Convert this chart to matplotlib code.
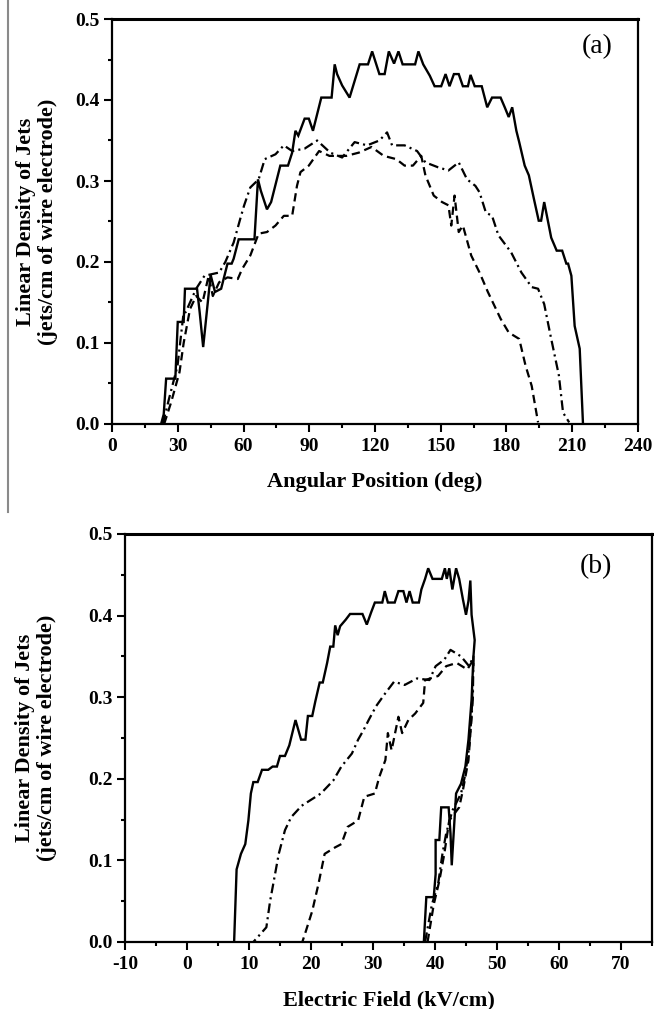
import matplotlib
matplotlib.use("Agg")
import matplotlib.pyplot as plt
from matplotlib.lines import Line2D
from matplotlib.ticker import MultipleLocator, FormatStrFormatter
from matplotlib.font_manager import FontProperties

plt.rcParams['font.family'] = ['Liberation Serif', 'DejaVu Serif']
plt.rcParams['lines.scale_dashes'] = False
plt.rcParams['axes.unicode_minus'] = False

# ---------------- Panel (a): density vs angular position ----------------
a_solid_x = [22.4, 23.6, 24.7, 28.9, 30.0, 32.7, 33.3, 38.8, 40.0, 41.6, 45.0, 47.0, 49.8, 51.3,
             52.7, 54.6, 55.5, 57.8, 65.0, 66.6, 67.9, 70.7, 72.6, 76.8, 80.3, 82.2, 83.7, 85.0,
             87.9, 89.8, 91.7, 95.5, 100.2, 101.6, 102.7, 105.0, 108.4, 113.0, 116.8, 118.7,
             122.0, 124.4, 126.3, 128.7, 130.7, 132.6, 138.3, 139.8, 142.0, 145.0, 147.2, 150.2,
             152.2, 154.0, 156.0, 158.2, 160.1, 162.4, 163.6, 165.5, 168.7, 171.2, 173.4, 177.3,
             179.2, 181.0, 182.6, 184.5, 185.8, 188.3, 190.2, 192.5, 194.7, 195.8, 197.2, 200.4,
             202.9, 205.4, 207.3, 208.1, 209.6, 211.1, 213.4, 214.9]
a_solid_y = [0.0, 0.012, 0.056, 0.056, 0.126, 0.126, 0.167, 0.167, 0.138, 0.095, 0.184, 0.163,
             0.167, 0.183, 0.198, 0.198, 0.204, 0.228, 0.228, 0.302, 0.288, 0.265, 0.274, 0.319,
             0.319, 0.335, 0.362, 0.356, 0.377, 0.377, 0.362, 0.403, 0.403, 0.444, 0.432, 0.418,
             0.403, 0.444, 0.444, 0.46, 0.432, 0.432, 0.46, 0.445, 0.46, 0.444, 0.444, 0.46,
             0.444, 0.43, 0.417, 0.417, 0.432, 0.417, 0.432, 0.432, 0.417, 0.417, 0.431, 0.417,
             0.417, 0.391, 0.403, 0.403, 0.391, 0.379, 0.391, 0.362, 0.348, 0.319, 0.307, 0.278,
             0.251, 0.251, 0.274, 0.230, 0.214, 0.214, 0.198, 0.198, 0.183, 0.121, 0.093, 0.0]

a_dashdot_x = [23.2, 26.0, 29.9, 32.7, 33.6, 38.4, 42.2, 48.9, 51.7, 55.5, 58.9, 60.3, 63.1, 66.9,
               69.7, 74.6, 78.4, 82.2, 87.9, 93.6, 99.6, 105.0, 110.7, 116.4, 122.0, 125.5,
               127.8, 133.5, 139.2, 143.0, 148.7, 153.5, 158.2, 162.0, 165.8, 167.7, 170.6,
               173.4, 176.3, 182.1, 186.8, 191.5, 194.4, 197.2, 200.1, 203.9, 205.8, 208.6]
a_dashdot_y = [0.0, 0.031, 0.072, 0.138, 0.138, 0.167, 0.183, 0.187, 0.2, 0.224, 0.257, 0.27,
               0.292, 0.302, 0.327, 0.333, 0.344, 0.337, 0.34, 0.35, 0.335, 0.329, 0.348, 0.344,
               0.35, 0.36, 0.344, 0.344, 0.337, 0.323, 0.317, 0.313, 0.323, 0.302, 0.294, 0.286,
               0.261, 0.257, 0.233, 0.212, 0.187, 0.169, 0.167, 0.148, 0.109, 0.06, 0.014, 0.002]

a_dashed_x = [23.8, 27.0, 30.8, 32.7, 35.6, 38.4, 41.3, 44.1, 46.0, 48.9, 52.7, 57.4, 59.3, 63.1,
              66.9, 70.7, 74.6, 78.4, 82.2, 84.4, 86.0, 89.8, 94.5, 99.2, 106.9, 112.6, 118.4,
              124.0, 129.7, 133.5, 137.3, 141.1, 143.0, 146.8, 150.6, 153.5, 154.8, 156.3,
              158.2, 160.1, 163.9, 167.7, 171.5, 177.3, 181.0, 185.8, 188.7, 191.5, 194.4]
a_dashed_y = [0.0, 0.027, 0.064, 0.1, 0.142, 0.158, 0.15, 0.183, 0.158, 0.175, 0.181, 0.179,
              0.191, 0.208, 0.235, 0.237, 0.245, 0.257, 0.257, 0.294, 0.311, 0.319, 0.337,
              0.331, 0.331, 0.335, 0.342, 0.331, 0.327, 0.319, 0.319, 0.331, 0.307, 0.282,
              0.274, 0.27, 0.245, 0.282, 0.237, 0.245, 0.208, 0.187, 0.163, 0.13, 0.113, 0.105,
              0.072, 0.047, 0.002]

# ---------------- Panel (b): density vs electric field ----------------
b_solid_x = [38.2, 38.6, 39.8, 40.1, 40.1, 40.7, 41.0, 42.2, 42.5, 42.7, 43.4, 44.2, 44.9, 45.4,
             45.9, 46.2, 46.4, 45.9, 45.7, 45.4, 45.0, 44.5, 43.9, 43.4, 42.8, 42.3, 41.9, 41.6,
             41.1, 39.6, 38.9, 38.4, 37.8, 37.4, 36.4, 35.9, 35.4, 34.9, 34.1, 33.5, 32.4, 31.9,
             31.5, 30.3, 29.7, 29.0, 28.3, 26.3, 25.6, 24.7, 24.3, 23.9, 23.6, 23.1, 22.6, 21.9,
             21.4, 20.7, 20.2, 19.5, 19.1, 18.4, 17.5, 16.5, 15.8, 15.0, 14.5, 13.8, 13.1, 12.1,
             11.4, 10.7, 10.3, 9.9, 9.4, 8.7, 8.0, 7.6]
b_solid_y = [0.0, 0.055, 0.055, 0.083, 0.125, 0.125, 0.165, 0.165, 0.133, 0.094, 0.182, 0.194,
             0.215, 0.248, 0.297, 0.35, 0.37, 0.401, 0.443, 0.418, 0.401, 0.42, 0.445, 0.458,
             0.432, 0.458, 0.445, 0.458, 0.445, 0.445, 0.458, 0.445, 0.432, 0.416, 0.416, 0.43,
             0.416, 0.43, 0.43, 0.416, 0.416, 0.43, 0.416, 0.416, 0.404, 0.389, 0.402, 0.402,
             0.395, 0.387, 0.376, 0.388, 0.362, 0.362, 0.342, 0.318, 0.318, 0.295, 0.277, 0.277,
             0.248, 0.248, 0.272, 0.241, 0.228, 0.228, 0.215, 0.215, 0.211, 0.211, 0.196, 0.196,
             0.182, 0.149, 0.12, 0.108, 0.089, 0.0]

b_dashdot_x = [38.4, 39.5, 40.5, 41.2, 41.8, 42.8, 44.2, 44.9, 45.5, 46.1, 46.2, 45.5, 44.2,
               42.5, 41.5, 40.1, 39.1, 37.1, 35.1, 33.4, 32.0, 30.5, 29.3, 28.5, 27.6, 26.6,
               24.9, 23.6, 21.6, 18.5, 16.8, 15.8, 14.8, 14.1, 13.4, 12.8, 10.7]
b_dashdot_y = [0.0, 0.046, 0.071, 0.108, 0.133, 0.161, 0.182, 0.206, 0.239, 0.297, 0.35, 0.338,
               0.35, 0.358, 0.346, 0.338, 0.321, 0.323, 0.315, 0.319, 0.305, 0.289, 0.272,
               0.26, 0.248, 0.231, 0.215, 0.198, 0.182, 0.167, 0.153, 0.137, 0.108, 0.079,
               0.05, 0.018, 0.0]

b_dashed_x = [38.8, 39.8, 40.7, 41.5, 42.3, 43.9, 44.5, 45.4, 45.9, 46.2, 45.2, 43.5, 41.8,
              40.5, 38.4, 38.1, 36.8, 35.7, 34.7, 34.1, 33.0, 32.4, 32.0, 31.0, 30.3, 28.6,
              27.6, 25.9, 24.9, 23.9, 22.2, 21.2, 20.2, 19.2, 18.6]
b_dashed_y = [0.0, 0.046, 0.075, 0.108, 0.149, 0.165, 0.186, 0.223, 0.276, 0.346, 0.334,
              0.342, 0.338, 0.326, 0.321, 0.293, 0.28, 0.272, 0.256, 0.276, 0.235, 0.256,
              0.223, 0.202, 0.182, 0.178, 0.149, 0.141, 0.12, 0.116, 0.108, 0.071, 0.038,
              0.014, 0.0]

a_xticks = [0, 30, 60, 90, 120, 150, 180, 210, 240]
b_xticks = [-10, 0, 10, 20, 30, 40, 50, 60, 70]
yticks = [0.0, 0.1, 0.2, 0.3, 0.4, 0.5]

W, H = 654, 1009
fig = plt.figure(figsize=(W / 100, H / 100), dpi=100)

ax1 = fig.add_axes([112 / W, 1 - 424 / H, (638 - 112) / W, (424 - 19) / H])
ax2 = fig.add_axes([125 / W, 1 - 942 / H, (652 - 125) / W, (942 - 534) / H])

LW = 1.7
tick_fp = FontProperties(family='Liberation Serif', weight='bold', size=14)
lab_font = dict(family='Liberation Serif', weight='bold', size=16)


def draw(ax, sx, sy, ddx, ddy, dx, dy):
    ax.plot(sx, sy, color='black', lw=LW, solid_joinstyle='miter')
    l1, = ax.plot(ddx, ddy, color='black', lw=LW * 0.95)
    l1.set_dashes((7, 3, 1.5, 3))
    l2, = ax.plot(dx, dy, color='black', lw=LW * 0.95)
    l2.set_dashes((6, 3.5))


draw(ax1, a_solid_x, a_solid_y, a_dashdot_x, a_dashdot_y, a_dashed_x, a_dashed_y)
draw(ax2, b_solid_x, b_solid_y, b_dashdot_x, b_dashdot_y, b_dashed_x, b_dashed_y)

ax1.set_xlim(0, 240)
ax2.set_xlim(-10, 75)
for ax, xt, mx in ((ax1, a_xticks, 15), (ax2, b_xticks, 5)):
    ax.set_ylim(0, 0.5)
    ax.set_xticks(xt)
    ax.set_yticks(yticks)
    ax.xaxis.set_minor_locator(MultipleLocator(mx))
    ax.yaxis.set_minor_locator(MultipleLocator(0.05))
    ax.yaxis.set_major_formatter(FormatStrFormatter('%.1f'))
    ax.tick_params(which='major', direction='out', length=5.8, width=1.5,
                   top=False, right=False)
    ax.tick_params(axis='x', which='major', pad=4)
    ax.tick_params(axis='y', which='major', pad=3)
    ax.tick_params(which='minor', direction='out', length=3, width=1.5,
                   top=False, right=False)
    for lab in ax.get_xticklabels() + ax.get_yticklabels():
        lab.set_fontproperties(tick_fp)
    for s in ax.spines.values():
        s.set_linewidth(1.6)
    ax.spines['top'].set_linewidth(2.2)

ax1.set_xlabel('Angular Position (deg)', **lab_font)
ax2.set_xlabel('Electric Field (kV/cm)', **lab_font)
ax1.xaxis.set_label_coords(0.5, -58 / 405)
ax2.xaxis.set_label_coords(0.5, -58 / 408)
ax1.xaxis.label.set_va('center')
ax2.xaxis.label.set_va('center')

ylab = 'Linear Density of Jets\n(jets/cm of wire electrode)'
ax1.set_ylabel(ylab, linespacing=1.1, **lab_font)
ax2.set_ylabel(ylab, linespacing=1.1, **lab_font)
ax1.yaxis.set_label_coords((37 - 112) / 526, 0.5)
ax2.yaxis.set_label_coords((36 - 125) / 527, 0.5)
ax1.yaxis.label.set_va('center')
ax2.yaxis.label.set_va('center')

fig.text(597 / W, 1 - 47 / H, '(a)', fontsize=20, family='Liberation Serif',
         ha='center', va='center')
fig.text(596 / W, 1 - 567 / H, '(b)', fontsize=20, family='Liberation Serif',
         ha='center', va='center')

# page-edge rule at left of panel (a)
fig.add_artist(Line2D([8 / W, 8 / W], [1 - 512 / H, 1.0], color='#8a8a8a', lw=1.5))

fig.savefig('out.png', dpi=100)
